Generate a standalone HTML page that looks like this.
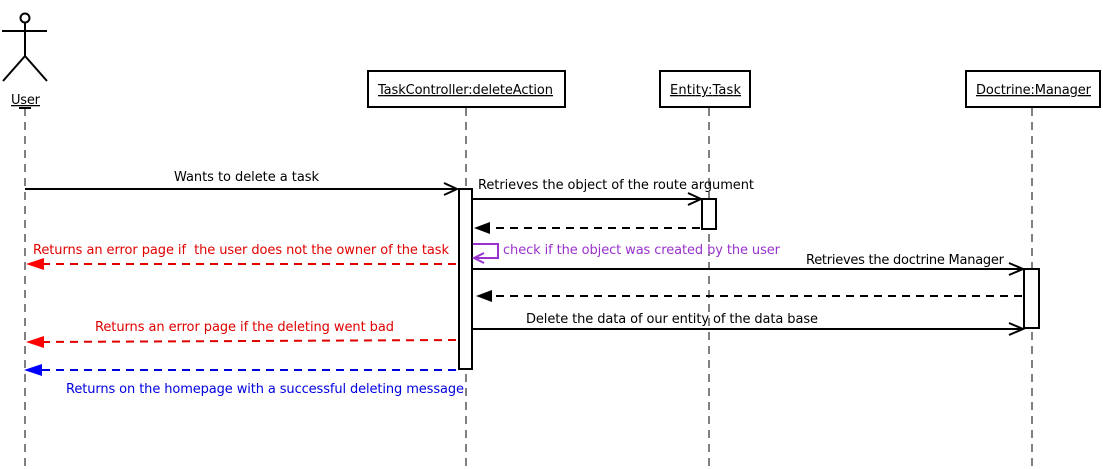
<!DOCTYPE html>
<html><head><meta charset="utf-8">
<style>
html,body{margin:0;padding:0;background:#fff;}
svg{display:block;}
text{font-family:"DejaVu Sans","Liberation Sans",sans-serif;font-size:13px;}
</style></head><body>
<svg width="1103" height="469" viewBox="0 0 1103 469" xmlns="http://www.w3.org/2000/svg">
<g stroke="#000" stroke-width="2" fill="none">
<circle cx="25" cy="18" r="4.5"/>
<line x1="2" y1="31" x2="47" y2="31"/>
<line x1="25" y1="22" x2="25" y2="56"/>
<line x1="25" y1="56" x2="3" y2="81"/>
<line x1="25" y1="56" x2="47" y2="81"/>
<line x1="19" y1="108" x2="31" y2="108"/>
</g>
<text x="11" y="104" textLength="29" text-decoration="underline">User</text>
<g stroke="#000" stroke-width="1" stroke-dasharray="8,6" fill="none" shape-rendering="crispEdges">
<line x1="25" y1="108" x2="25" y2="469"/>
<line x1="466" y1="108" x2="466" y2="469"/>
<line x1="709" y1="108" x2="709" y2="469"/>
<line x1="1032" y1="108" x2="1032" y2="469"/>
</g>
<g stroke="#000" stroke-width="2" fill="#fff">
<rect x="368" y="71" width="197" height="36"/>
<rect x="660" y="71" width="90" height="36"/>
<rect x="966" y="71" width="134" height="36"/>
</g>
<text x="378" y="94" textLength="175" text-decoration="underline">TaskController:deleteAction</text>
<text x="670" y="94" textLength="71" text-decoration="underline">Entity:Task</text>
<text x="976" y="94" textLength="115" text-decoration="underline">Doctrine:Manager</text>
<g stroke="#000" stroke-width="2" fill="#fff">
<rect x="459" y="189" width="13" height="180"/>
<rect x="702" y="199" width="14" height="30"/>
<rect x="1024" y="269" width="15" height="59"/>
</g>
<g stroke="#000" stroke-width="2" fill="none">
<line x1="25" y1="189" x2="457" y2="189"/>
<polyline points="444,183 457,189 444,195"/>
<line x1="473" y1="199" x2="701" y2="199"/>
<polyline points="688,193 701,199 688,205"/>
<line x1="473" y1="269" x2="1023" y2="269"/>
<polyline points="1009,263 1023,269 1009,275"/>
<line x1="473" y1="329" x2="1023" y2="329"/>
<polyline points="1009,323 1023,329 1009,335"/>
</g>
<g stroke="#000" stroke-width="2" stroke-dasharray="8,6" fill="none">
<line x1="700" y1="228" x2="485" y2="228"/>
<line x1="1022" y1="296" x2="487" y2="296"/>
</g>
<polygon points="474,228 490,222 490,234" fill="#000"/>
<polygon points="476,296 492,290 492,302" fill="#000"/>
<g stroke="#9932cc" stroke-width="2" fill="none">
<polyline points="473,244 498,244 498,258 474,258"/>
<polyline points="484,253 474,258 484,263"/>
</g>
<g stroke-width="2" stroke-dasharray="8,6" fill="none">
<line x1="456" y1="264" x2="40" y2="264" stroke="#e00000"/>
<line x1="456" y1="340" x2="40" y2="342" stroke="#e00000"/>
<line x1="456" y1="370" x2="40" y2="370" stroke="#0000e0"/>
</g>
<polygon points="26,264 44,258 44,270" fill="#f00"/>
<polygon points="26,342 44,336 44,348" fill="#f00"/>
<polygon points="24,370 42,364 42,376" fill="#00f"/>
<text x="174" y="181" textLength="145">Wants to delete a task</text>
<text x="478" y="189" textLength="276">Retrieves the object of the route argument</text>
<text x="33" y="254" textLength="416" fill="#e00000" xml:space="preserve">Returns an error page if  the user does not the owner of the task</text>
<text x="503" y="254" textLength="277" fill="#9932cc">check if the object was created by the user</text>
<text x="806" y="264" textLength="198">Retrieves the doctrine Manager</text>
<text x="526" y="323" textLength="292">Delete the data of our entity of the data base</text>
<text x="95" y="331" textLength="299" fill="#e00000">Returns an error page if the deleting went bad</text>
<text x="66" y="393" textLength="398" fill="#0000e0">Returns on the homepage with a successful deleting message</text>
</svg>
</body></html>
